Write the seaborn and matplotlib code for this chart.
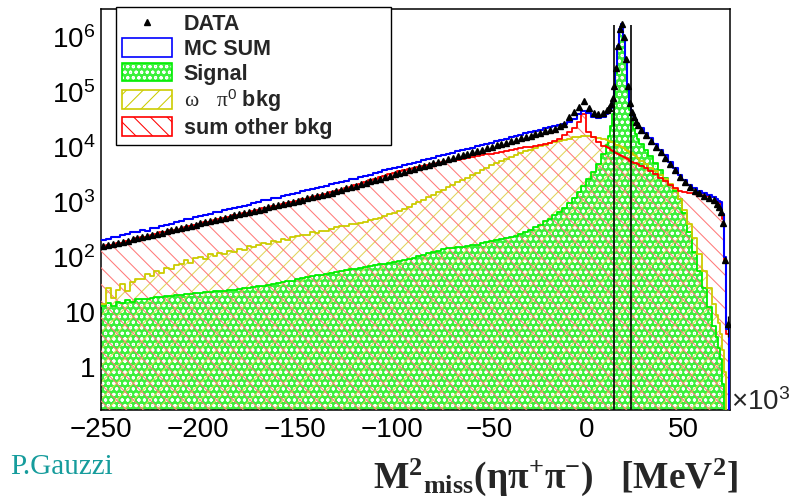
import numpy as np
import pandas as pd
import matplotlib
matplotlib.use("Agg")
import matplotlib.pyplot as plt
import seaborn as sns
from matplotlib.patches import Patch
from matplotlib.lines import Line2D
from matplotlib.ticker import (MultipleLocator, LogLocator, FixedLocator,
                               FuncFormatter, NullFormatter)

# ---------------------------------------------------------------------------
# Missing-mass-squared histograms, x in units of 10^3 MeV^2
# ---------------------------------------------------------------------------
bin_edges = np.concatenate([
    np.arange(-250.0, 10.0, 2.5),
    np.arange(10.0, 27.0, 1.0),
    np.arange(27.0, 67.0, 2.5),
    [67.0, 68.0, 69.0, 70.0, 71.0, 72.0, 73.5, 74.0],
])

data_counts = [
    158, 166, 174, 183, 192, 201, 211, 221,
    232, 244, 255, 268, 281, 294, 309, 324,
    340, 356, 374, 393, 411, 432, 453, 475,
    498, 522, 548, 574, 603, 632, 664, 695,
    729, 766, 804, 841, 883, 927, 971, 1019,
    1069, 1122, 1175, 1233, 1294, 1355, 1422, 1493,
    1600, 1694, 1795, 1905, 2018, 2138, 2265, 2399,
    2547, 2698, 2858, 3027, 3214, 3404, 3606, 3819,
    4046, 4295, 4550, 4819, 5105, 5408, 5741, 6081,
    6442, 6823, 7244, 7674, 8128, 8610, 9120, 9683,
    10257, 10864, 11508, 12218, 12942, 13709, 14521, 15417,
    16331, 17298, 18323, 19454, 20606, 21827, 23988, 26915,
    35481, 43652, 53703, 69183, 52481, 42658, 39811, 42658,
    47900, 52500, 60300, 79400, 132000, 282000, 708000, 1410000, 1740000,
    1000000, 398000, 132000, 63100, 43700, 35500, 29500, 25100,
    20400, 16600, 13200, 10200, 8130, 6460, 5010, 3800,
    2880, 2290, 1910, 1620, 1450, 1320, 1200, 1100,
    933, 813, 676, 417, 89, 6, 0,
]

mc_sum = [
    205, 214, 236, 232, 255, 262, 290, 284,
    318, 301, 342, 336, 377, 390, 410, 446,
    455, 497, 488, 540, 551, 590, 604, 652,
    670, 731, 745, 795, 818, 871, 899, 962,
    1005, 1080, 1101, 1182, 1214, 1297, 1330, 1420,
    1490, 1602, 1645, 1751, 1808, 1925, 1980, 2110,
    2230, 2370, 2450, 2600, 2690, 2850, 2950, 3120,
    3400, 3550, 3790, 3960, 4220, 4400, 4700, 4910,
    5180, 5500, 5770, 6130, 6420, 6810, 7150, 7590,
    7950, 8450, 8860, 9420, 9850, 10480, 10950, 11680,
    12200, 12980, 13590, 14450, 15120, 16070, 16850, 17900,
    18800, 19800, 20900, 22100, 23300, 24500, 25700, 26900,
    29500, 33100, 39800, 45700, 41700, 36300, 33900, 36300,
    39800, 44700, 52500, 70800, 126000, 282000, 708000, 1410000, 1780000,
    1000000, 398000, 126000, 60300, 44700, 37200, 31600, 26300,
    22400, 18600, 14800, 11700, 9120, 7240, 5500, 4170,
    3090, 2510, 2040, 1780, 1580, 1450, 1350, 1260,
    1150, 1070, 1000, 600, 100, 5, 0,
]

signal = [
    13.0, 14.5, 12.8, 15.2, 14.6, 16.3, 15.5, 17.2,
    17.0, 17.5, 18.0, 18.5, 18.8, 19.5, 19.8, 20.5,
    20.4, 21.0, 21.3, 22.0, 22.4, 22.9, 23.3, 24.0,
    24.0, 24.5, 25.0, 25.6, 26.3, 27.0, 27.6, 28.3,
    29.5, 30.2, 31.2, 32.4, 33.5, 35.0, 36.3, 37.6,
    40.7, 41.7, 43.6, 44.7, 46.8, 47.9, 50.1, 52.5,
    53.7, 56.2, 57.5, 60.3, 61.7, 64.6, 66.1, 69.2,
    70.8, 74.1, 75.9, 79.4, 81.3, 85.1, 87.1, 93.3,
    97.7, 105, 110, 117, 123, 129, 138, 145,
    148, 151, 155, 162, 166, 170, 178, 186,
    195, 204, 214, 224, 234, 245, 263, 282,
    309, 347, 389, 447, 501, 575, 676, 794,
    955, 1202, 1514, 1995, 2630, 3548, 5012, 7413,
    11220, 15849, 23988, 39811, 89125, 223872, 630957, 1318257, 1659587,
    954993, 354813, 104713, 47863, 30200, 21878, 17378, 14454,
    11482, 9120, 7079, 5248, 3802, 2818, 2089, 1585,
    1148, 631, 282, 126, 56, 28, 12.6, 5.6,
    3.5, 2.2, 1.4, 0.5, 0, 0, 0,
]

omega_pi0_bkg = [
    14, 28, 18, 25, 32, 24, 35, 40,
    40, 50, 45, 56, 52, 63, 60, 72,
    76, 89, 79, 95, 100, 91, 112, 105,
    120, 115, 132, 126, 141, 135, 158, 151,
    166, 182, 174, 195, 191, 214, 204, 229,
    240, 257, 251, 282, 275, 302, 295, 331,
    347, 372, 363, 398, 407, 427, 437, 468,
    501, 525, 562, 603, 646, 692, 759, 832,
    912, 1000, 1122, 1230, 1380, 1514, 1698, 1862,
    2042, 2291, 2512, 2818, 3162, 3467, 3802, 4266,
    4677, 5129, 5623, 6166, 6761, 7244, 7762, 8511,
    9120, 9772, 10471, 11220, 12023, 12589, 13183, 13804,
    14454, 15136, 15488, 15849, 15849, 15488, 14791, 14125,
    13490, 13183, 12589, 12303, 11749, 11220, 10965, 10471, 10000,
    9550, 9120, 8511, 8128, 7762, 7244, 6918, 6457,
    5754, 5012, 4266, 3631, 3090, 2630, 2188, 1738,
    1148, 708, 398, 224, 112, 56, 28, 14,
    8.9, 6.3, 4.0, 2.0, 0.8, 0, 0,
]

other_bkg = [
    150, 166, 163, 182, 180, 201, 199, 222,
    233, 236, 257, 259, 283, 286, 310, 316,
    330, 358, 364, 392, 401, 433, 441, 478,
    486, 524, 536, 578, 590, 636, 650, 701,
    718, 770, 792, 848, 872, 934, 962, 1030,
    1060, 1130, 1170, 1245, 1290, 1370, 1420, 1510,
    1570, 1700, 1790, 1930, 2030, 2190, 2300, 2490,
    2610, 2830, 2960, 3210, 3370, 3640, 3820, 4100,
    4240, 4450, 4570, 4790, 4920, 5150, 5300, 5550,
    5700, 5970, 6140, 6420, 6610, 6910, 7120, 7440,
    7660, 8010, 8250, 8620, 8880, 9280, 9560, 9990,
    10330, 10720, 11120, 11540, 12020, 12880, 14450, 16600,
    19060, 22910, 28840, 39810, 19060, 15140, 12590, 10720,
    10000, 9550, 9120, 8710, 8320, 7940, 7590, 7240, 6920,
    6610, 6310, 6030, 5750, 5500, 5250, 5130, 4900,
    4570, 4170, 3720, 3240, 2820, 2400, 2090, 1820,
    1620, 1510, 1480, 1450, 1380, 1320, 1290, 1260,
    1070, 1000, 912, 501, 79, 4, 0,
]

# selection window around the pi0 peak and the height of its markers
cut_edges = [14.3, 22.8]
cut_line_top = 1.7e6

# labelled decades on the count axis
y_decades = [1, 10, 100, 1000, 10000, 100000, 1000000]

legend_labels = ["DATA", "MC SUM", "Signal",
                 r"$\mathrm{\omega}$   $\mathrm{\pi}^{\mathsf{0}}$ bkg",
                 "sum other bkg"]

# ---------------------------------------------------------------------------
sns.set_style("white")
plt.rcParams.update({
    "font.family": ["Liberation Sans", "DejaVu Sans"],
    "mathtext.fontset": "custom",
    "mathtext.rm": "Liberation Serif",
    "mathtext.it": "Liberation Serif:italic",
    "mathtext.bf": "Liberation Serif:bold",
    "mathtext.sf": "Liberation Sans",
    "hatch.linewidth": 0.75,
    "axes.unicode_minus": True,
})

mc_color = "#0000ff"
sig_line = "#00ee00"
sig_face = "#3cf03c"
om_line = "#cccc00"
om_hatch = "#e0d45a"
ot_line = "#ff0000"
ot_hatch = "#ff7a7a"

W, H = 798, 501
fig = plt.figure(figsize=(W / 100, H / 100), dpi=100)
ax = fig.add_axes([101 / W, 1 - 410 / H, 629 / W, 401 / H])
ax.set_yscale("log")

edges = np.asarray(bin_edges)
centers = 0.5 * (edges[:-1] + edges[1:])
edge_list = [float(e) for e in edges]


def hist(values, **kws):
    frame = pd.DataFrame({"m2": centers, "w": np.asarray(values, dtype=float)})
    sns.histplot(data=frame, x="m2", weights="w", bins=edge_list,
                 element="step", ax=ax, **kws)


# filled areas
hist(signal, fill=True, color=sig_face, facecolor=sig_face, edgecolor="none",
     linewidth=0, alpha=1, zorder=1)
hist(signal, fill=True, color="white", facecolor="none", edgecolor="white",
     hatch="ooo", linewidth=0, zorder=1.1)
hist(omega_pi0_bkg, fill=True, color=om_hatch, facecolor="none",
     edgecolor=om_hatch, hatch="//", linewidth=0, zorder=2)
hist(other_bkg, fill=True, color=ot_hatch, facecolor="none",
     edgecolor=ot_hatch, hatch="\\\\", linewidth=0, zorder=3)

# outlines
hist(signal, fill=False, color=sig_line, linewidth=1.3, zorder=4)
hist(omega_pi0_bkg, fill=False, color=om_line, linewidth=1.3, zorder=4.1)
hist(other_bkg, fill=False, color=ot_line, linewidth=1.3, zorder=4.2)
hist(mc_sum, fill=False, color=mc_color, linewidth=1.5, zorder=5)

# data points with Poisson errors
dc = np.asarray(data_counts, dtype=float)
mask = dc > 0
ax.errorbar(centers[mask], dc[mask], yerr=np.sqrt(dc[mask]), fmt="^",
            color="black", ms=5, elinewidth=0.9, capsize=0, zorder=6)

ax.set_xlim(-250, 74)
ax.set_ylim(0.165, 3.3e6)

# selection cut lines
ax.vlines(cut_edges, ax.get_ylim()[0], cut_line_top, colors="black",
          linewidth=1.2, zorder=7)

ax.set_xlabel("")
ax.set_ylabel("")

# axes styling (ROOT-like frame with inward ticks)
for sp in ax.spines.values():
    sp.set_visible(True)
    sp.set_color("black")
    sp.set_linewidth(1.1)

ax.xaxis.set_major_locator(MultipleLocator(50))
ax.xaxis.set_minor_locator(MultipleLocator(10))
ax.yaxis.set_major_locator(FixedLocator(y_decades))
ax.yaxis.set_minor_locator(LogLocator(base=10, subs=np.arange(2, 10), numticks=60))
ax.yaxis.set_minor_formatter(NullFormatter())


def ylab(v, pos):
    e = int(round(np.log10(v)))
    if e == 0:
        return "1"
    if e == 1:
        return "10"
    return r"$\mathsf{10^{%d}}$" % e


ax.yaxis.set_major_formatter(FuncFormatter(ylab))
ax.tick_params(axis="both", which="both", direction="in", top=False,
               right=False, colors="black")
ax.tick_params(axis="y", which="major", length=12, width=0.8, pad=4,
               labelsize=20)
ax.tick_params(axis="y", which="minor", length=6.5, width=0.8)
ax.tick_params(axis="x", which="major", length=9.5, width=0.8, pad=5,
               labelsize=20)
ax.tick_params(axis="x", which="minor", length=5, width=0.8)

# axis exponent and titles
fig.text(731 / W, 1 - 402 / H, r"×$\mathsf{10^{3}}$", fontsize=20,
         ha="left", va="center")
fig.text(10 / W, 1 - 467 / H, "P.Gauzzi", family="Liberation Serif",
         fontsize=21, color="#169c9c", ha="left", va="center")
fig.text(738 / W, 1 - 477 / H,
         r"$\mathbf{M^{2}{}_{miss}(\eta\pi^{+}\pi^{-})\quad[MeV^{2}]}$",
         fontsize=27, ha="right", va="center")

# legend
handles = [
    Line2D([], [], marker="^", ls="none", color="black", ms=4.5),
    Patch(facecolor="white", edgecolor=mc_color, linewidth=1.2),
    (Patch(facecolor=sig_face, edgecolor="none"),
     Patch(facecolor="none", edgecolor="white", hatch="ooo", linewidth=0),
     Patch(facecolor="none", edgecolor=sig_line, linewidth=1.2)),
    Patch(facecolor="white", edgecolor=om_line, hatch="//", linewidth=1.2),
    Patch(facecolor="white", edgecolor=ot_line, hatch="\\\\", linewidth=1.2),
]
leg = ax.legend(handles, legend_labels, loc="upper left",
                bbox_to_anchor=(116 / W, 1 - 143 / H, 275 / W, 136 / H),
                bbox_transform=fig.transFigure, mode="expand",
                frameon=True, fancybox=False, framealpha=1,
                edgecolor="black", borderpad=0.3, labelspacing=0.14,
                handlelength=2.3, handleheight=0.95, handletextpad=0.55,
                borderaxespad=0,
                prop={"family": "Liberation Sans", "weight": "bold",
                      "size": 15.5})
leg.get_frame().set_linewidth(1.0)
leg.set_zorder(10)

fig.savefig("out.png", dpi=100, facecolor="white")
